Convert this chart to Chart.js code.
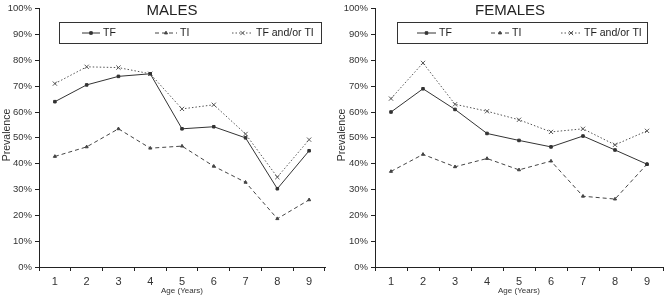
<!DOCTYPE html>
<html>
<head>
<meta charset="utf-8">
<script src="https://cdn.jsdelivr.net/npm/chart.js@4.4.1/dist/chart.umd.min.js"></script>
<style>
  html, body { margin: 0; padding: 0; background: #fff; }
  .wrap { position: absolute; top: 0; width: 334px; height: 296px; }
  #left { left: 0; }
  #right { left: 334px; }
</style>
</head>
<body>
<div class="wrap" id="left"><canvas id="males"></canvas></div>
<div class="wrap" id="right"><canvas id="females"></canvas></div>
<script>
const ages = ['1', '2', '3', '4', '5', '6', '7', '8', '9'];
const seriesNames = ['TF', 'TI', 'TF and/or TI'];

// Males
const malesTF = [64, 70.5, 73.8, 74.8, 53.5, 54.3, 50, 30.3, 45];
const malesTI = [42.8, 46.5, 53.5, 46, 46.8, 39, 32.8, 18.7, 26];
const malesAny = [71, 77.5, 77.2, 74.8, 61.2, 62.8, 51.5, 34.8, 49.3];

// Females
const femalesTF = [60, 69, 61, 51.7, 49, 46.5, 50.7, 45.3, 39.8];
const femalesTI = [37, 43.6, 38.8, 42, 37.6, 41, 27.4, 26.3, 39.8];
const femalesAny = [65.2, 79, 63, 60.3, 57, 52.3, 53.5, 47.3, 52.7];

const FONT = '"Liberation Sans", Arial, sans-serif';

const styles = [
  { color: '#333', dash: [], point: 'rect', r: 1.8 },
  { color: '#444', dash: [4, 3], point: 'triangle', r: 1.8 },
  { color: '#555', dash: [1.5, 2], point: 'crossRot', r: 3 }
];

function makeDatasets(values) {
  return values.map((v, i) => ({
    label: seriesNames[i],
    data: v,
    borderColor: styles[i].color,
    backgroundColor: styles[i].color,
    borderWidth: 1,
    borderDash: styles[i].dash,
    pointStyle: styles[i].point,
    pointRadius: styles[i].r,
    pointBorderWidth: 1,
    tension: 0
  }));
}

// titulo, leyenda con borde y titulo del eje Y dibujados a mano
const decor = {
  id: 'decor',
  afterDraw(chart, args, o) {
    const c = chart.ctx;
    c.save();
    c.fillStyle = '#222';
    c.font = '15px ' + FONT;
    c.textAlign = 'center';
    c.textBaseline = 'middle';
    c.fillText(o.title, o.titleX, 11);

    // caja de la leyenda
    c.fillStyle = '#fff';
    c.fillRect(o.box[0], o.box[1], o.box[2], o.box[3]);
    c.strokeStyle = '#333';
    c.lineWidth = 1;
    c.setLineDash([]);
    c.strokeRect(o.box[0] + 0.5, o.box[1] + 0.5, o.box[2], o.box[3]);

    const ly = o.box[1] + o.box[3] / 2 + 0.5;
    chart.data.datasets.forEach((ds, i) => {
      const [x0, x1] = o.items[i];
      c.strokeStyle = ds.borderColor;
      c.fillStyle = ds.backgroundColor;
      c.setLineDash(ds.borderDash);
      c.beginPath();
      c.moveTo(x0, ly);
      c.lineTo(x1, ly);
      c.stroke();
      c.setLineDash([]);
      Chart.helpers.drawPoint(c, {
        pointStyle: ds.pointStyle, radius: ds.pointRadius, borderWidth: 1
      }, (x0 + x1) / 2, ly);
      c.fillStyle = '#222';
      c.font = '10.5px ' + FONT;
      c.textAlign = 'left';
      c.fillText(ds.label, x1 + 3, ly);
    });

    c.translate(o.yTitleX, 135);
    c.rotate(-Math.PI / 2);
    c.textAlign = 'center';
    c.fillStyle = '#333';
    c.font = '10.5px ' + FONT;
    c.fillText('Prevalence', 0, 0);
    c.restore();
  }
};

function makeChart(id, values, yWidth, padRight, decorOpts) {
  return new Chart(document.getElementById(id), {
    type: 'line',
    data: { labels: ages, datasets: makeDatasets(values) },
    plugins: [decor],
    options: {
      responsive: true,
      maintainAspectRatio: false,
      animation: false,
      layout: { padding: { top: 3, right: padRight, left: 0, bottom: 0 } },
      plugins: {
        legend: { display: false },
        tooltip: { enabled: false },
        decor: decorOpts
      },
      scales: {
        x: {
          offset: true,
          grid: { offset: true, drawOnChartArea: false, color: '#222', tickLength: 4 },
          border: { color: '#222', width: 1 },
          ticks: { color: '#333', font: { family: FONT, size: 11 }, padding: 4 },
          title: { display: true, text: 'Age (Years)', color: '#333', font: { family: FONT, size: 8 }, padding: 0 },
          afterFit(s) { s.height = 29; }
        },
        y: {
          min: 0,
          max: 100,
          grid: { drawOnChartArea: false, color: '#222', tickLength: 4 },
          border: { color: '#222', width: 1 },
          ticks: {
            stepSize: 10,
            color: '#333',
            font: { family: FONT, size: 9.5 },
            padding: 3,
            callback: v => v + '%'
          },
          afterFit(s) { s.width = yWidth; }
        }
      }
    }
  });
}

makeChart('males', [malesTF, malesTI, malesAny], 39, 9, {
  title: 'MALES', titleX: 172, yTitleX: 7,
  box: [59, 22, 262, 21],
  items: [[82, 100], [155, 177], [232, 253]]
});

makeChart('females', [femalesTF, femalesTI, femalesAny], 41, 0, {
  title: 'FEMALES', titleX: 176, yTitleX: 8,
  box: [63, 22, 250, 21],
  items: [[83, 102], [157, 175], [227, 247]]
});
</script>
</body>
</html>
